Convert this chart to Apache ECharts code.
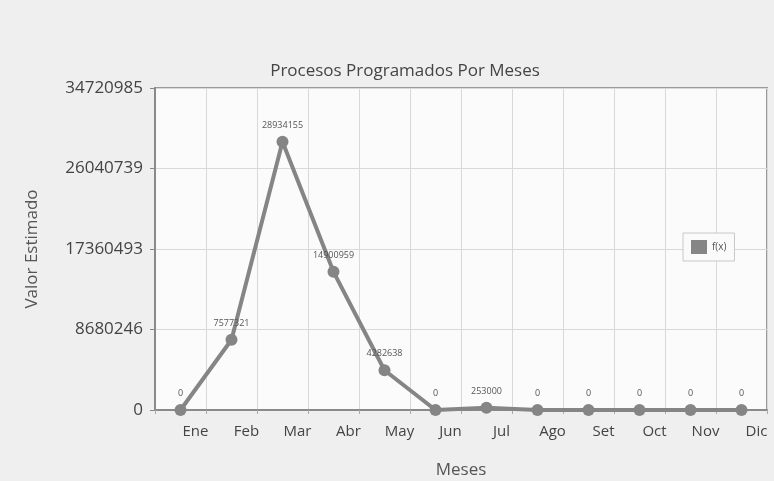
<!DOCTYPE html>
<html>
<head>
<meta charset="utf-8">
<script src="https://cdn.jsdelivr.net/npm/echarts@6/dist/echarts.min.js"></script>
<style>
  html, body { margin: 0; padding: 0; background: #efefef; }
  #chart { width: 774px; height: 481px; }
</style>
</head>
<body>
<div id="chart"></div>
<script>
const meses = ['Ene', 'Feb', 'Mar', 'Abr', 'May', 'Jun', 'Jul', 'Ago', 'Set', 'Oct', 'Nov', 'Dic']
const valores = [0, 7577321, 28934155, 14900959, 4282638, 0, 253000, 0, 0, 0, 0, 0]
const yMax = 34720985
const yTicks = 4

const chart = echarts.init(document.getElementById('chart'))
const gris = '#858585'

const option = {
  backgroundColor: '#efefef',
  textStyle: { fontFamily: 'Open Sans' },
  title: {
    text: 'Procesos Programados Por Meses',
    left: 400,
    textAlign: 'center',
    top: 58,
    textStyle: { fontSize: 17, fontWeight: 'normal', color: '#444', fontFamily: 'Open Sans' }
  },
  legend: {
    left: 683,
    top: 233,
    orient: 'vertical',
    padding: [7, 8],
    borderColor: '#c8c8c8',
    borderWidth: 1,
    backgroundColor: '#fafafa',
    itemWidth: 16,
    itemHeight: 14,
    icon: 'rect',
    textStyle: { fontSize: 10, color: '#555' },
    data: ['f(x)']
  },
  grid: {
    left: 155,
    right: 7,
    top: 88,
    bottom: 71,
    outerBoundsMode: 'none',
    containLabel: false,
    show: true,
    backgroundColor: '#fbfbfb',
    borderColor: '#9a9a9a',
    borderWidth: 2
  },
  xAxis: {
    type: 'category',
    data: meses,
    boundaryGap: true,
    name: 'Meses',
    nameLocation: 'middle',
    nameGap: 52,
    nameTextStyle: { fontSize: 17, color: '#555' },
    axisLine: { lineStyle: { color: '#8a8a8a', width: 2 } },
    axisTick: { show: true, length: 4, lineStyle: { color: '#aaa' } },
    axisLabel: { fontSize: 15, color: '#444', margin: 14, padding: [0, 0, 0, 30] },
    splitLine: { show: true, lineStyle: { color: '#d9d9d9' } }
  },
  yAxis: {
    type: 'value',
    min: 0,
    max: yMax,
    interval: yMax / yTicks,
    name: 'Valor Estimado',
    nameLocation: 'middle',
    nameGap: 114,
    nameTextStyle: { fontSize: 17, color: '#555' },
    axisLine: { show: true, lineStyle: { color: '#8a8a8a', width: 2 } },
    axisTick: { show: true, length: 5, lineStyle: { color: '#888' } },
    axisLabel: {
      fontSize: 17,
      color: '#444',
      margin: 12,
      formatter: v => String(Math.round(v))
    },
    splitLine: { show: true, lineStyle: { color: '#d9d9d9' } }
  },
  series: [{
    name: 'f(x)',
    type: 'line',
    data: valores,
    symbol: 'circle',
    symbolSize: 12,
    color: gris,
    lineStyle: { width: 4, color: gris },
    itemStyle: { color: gris },
    label: {
      show: true,
      position: 'top',
      distance: 6,
      fontSize: 9,
      color: '#555'
    }
  }]
}

chart.setOption(option)
</script>
</body>
</html>
